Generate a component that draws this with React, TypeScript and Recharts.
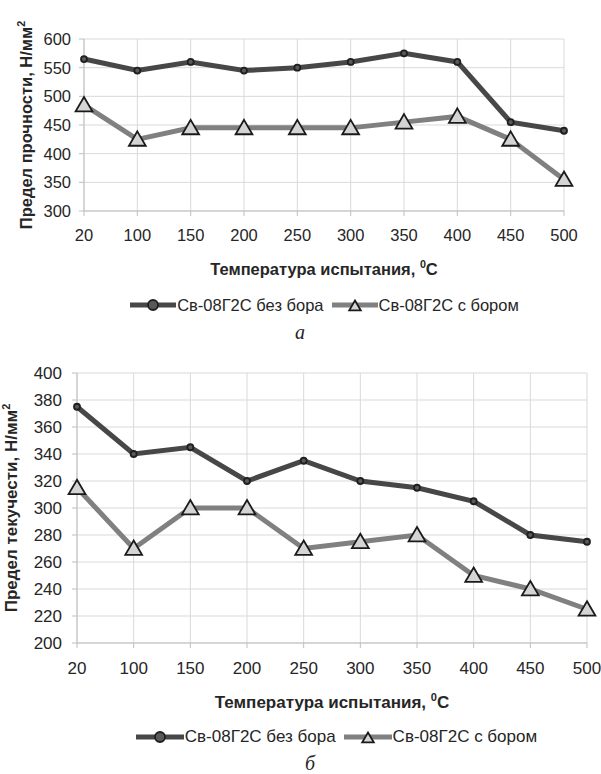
import React from 'react';
import {CartesianGrid, Legend, Line, LineChart, XAxis, YAxis} from 'recharts';

const temps = ['20', '100', '150', '200', '250', '300', '350', '400', '450', '500'];
const strengthNoBoron = [565, 545, 560, 545, 550, 560, 575, 560, 455, 440];
const strengthBoron = [485, 425, 445, 445, 445, 445, 455, 465, 425, 355];
const yieldNoBoron = [375, 340, 345, 320, 335, 320, 315, 305, 280, 275];
const yieldBoron = [315, 270, 300, 300, 270, 275, 280, 250, 240, 225];
const ticksA = [300, 350, 400, 450, 500, 550, 600];
const ticksB = [200, 220, 240, 260, 280, 300, 320, 340, 360, 380, 400];
const seriesNames = ['Св-08Г2С без бора', 'Св-08Г2С с бором'];

const dataA = temps.map((t, i) => ({t, a: strengthNoBoron[i], b: strengthBoron[i]}));
const dataB = temps.map((t, i) => ({t, a: yieldNoBoron[i], b: yieldBoron[i]}));

const FONT = '"Liberation Sans", Arial, sans-serif';
const TEXT = '#262626';
const DARK = '#474747';
const LIGHT = '#808080';

const Circle = (props: any) => {
    const {cx, cy, r = 7} = props;
    if (cx == null || cy == null) return null;
    return <circle key={props.index} cx={cx} cy={cy} r={r} fill="#595959" stroke="#1f1f1f" strokeWidth={1.8}/>;
};

const Triangle = (props: any) => {
    const {cx, cy, s = 8} = props;
    if (cx == null || cy == null) return null;
    const d = `M${cx},${cy - s} L${cx + s * 1.05},${cy + s * 0.8} L${cx - s * 1.05},${cy + s * 0.8} Z`;
    return <path key={props.index} d={d} fill="#d4d4d4" stroke="#1a1a1a" strokeWidth={1.8}/>;
};

const LegendBox = ({pad, fs, iw}: {pad: number, fs: number, iw: number}) => (
    <div style={{width: 601, display: 'flex', justifyContent: 'center', alignItems: 'center', paddingLeft: pad, boxSizing: 'border-box', fontFamily: FONT, fontSize: fs, color: TEXT, whiteSpace: 'nowrap'}}>
        {seriesNames.map((name, i) => (
            <div key={name} style={{display: 'flex', alignItems: 'center', marginRight: i === 0 ? 8 : 0}}>
                <svg width={iw} height={20}>
                    <line x1={0} x2={iw} y1={10} y2={10} stroke={i === 0 ? DARK : LIGHT} strokeWidth={5}/>
                    {i === 0 ? <Circle cx={iw / 2} cy={10} r={5}/> : <Triangle cx={iw / 2} cy={11} s={5.5}/>}
                </svg>
                <span style={{marginLeft: 1}}>{name}</span>
            </div>
        ))}
    </div>
);

const XTitle = (props: any) => {
    const {viewBox, dy, fs} = props;
    const cx = viewBox.x + viewBox.width / 2;
    return <text x={cx} y={viewBox.y + dy} textAnchor="middle" fontFamily={FONT} fontSize={fs} fontWeight="bold" fill={TEXT}>
        Температура испытания, <tspan fontSize={fs * 0.65} dy={-7}>0</tspan><tspan dy={7}>C</tspan>
    </text>;
};

const YTitle = (props: any) => {
    const {viewBox, text, lx, fs} = props;
    const cy = viewBox.y + viewBox.height / 2;
    return <text x={lx} y={cy} transform={`rotate(-90 ${lx} ${cy})`} textAnchor="middle" fontFamily={FONT} fontSize={fs} fontWeight="bold" fill={TEXT}>
        {text}<tspan fontSize={fs * 0.65} dy={-7}>2</tspan>
    </text>;
};

const Panel: React.FC<{data: any[], height: number, margin: any, domain: number[], ticks: number[], yWidth: number, yTitle: string, yTitleX: number, xTitleDy: number, legendPad: number, xTickMargin: number, yTickMargin: number, fs: number, iw: number}> = (p) => {
    const tickStyle = {fontFamily: FONT, fontSize: p.fs, fill: TEXT};
    return <LineChart width={601} height={p.height} data={p.data} margin={p.margin}>
        <CartesianGrid stroke="#d9d9d9"/>
        <XAxis dataKey="t" height={84} stroke="#bfbfbf" tickSize={5} tickMargin={p.xTickMargin} tick={tickStyle}
               interval={0} label={<XTitle dy={p.xTitleDy} fs={p.fs}/>}/>
        <YAxis domain={p.domain} ticks={p.ticks} width={p.yWidth} stroke="#bfbfbf" tickSize={5} tickMargin={p.yTickMargin}
               tick={tickStyle} interval={0} label={<YTitle text={p.yTitle} lx={p.yTitleX} fs={p.fs}/>}/>
        <Legend verticalAlign="bottom" height={20} wrapperStyle={{left: 0, width: 601}}
                content={() => <LegendBox pad={p.legendPad} fs={p.fs} iw={p.iw}/>}/>
        <Line dataKey="a" stroke={DARK} strokeWidth={5} dot={<Circle/>} isAnimationActive={false}/>
        <Line dataKey="b" stroke={LIGHT} strokeWidth={5} dot={<Triangle/>} isAnimationActive={false}/>
    </LineChart>;
};

export default function App() {
    const caption = {position: 'absolute' as const, fontFamily: '"Liberation Serif", "DejaVu Serif", serif', fontStyle: 'italic', fontSize: 20, lineHeight: '20px', color: TEXT};
    return <div style={{position: 'absolute', left: 0, top: 0, width: 601, height: 774, background: '#fff', overflow: 'hidden'}}>
        <div style={{position: 'absolute', left: 0, top: 0}}>
            <Panel data={dataA} height={320} margin={{top: 39, right: 37, left: 0, bottom: 5}} domain={[300, 600]} ticks={ticksA}
                   yWidth={84} yTitle="Предел прочности, Н/мм" yTitleX={32} xTitleDy={64} legendPad={48} xTickMargin={13}
                   yTickMargin={8} fs={16.5} iw={46}/>
        </div>
        <div style={{...caption, left: 295, top: 322}}>а</div>
        <div style={{position: 'absolute', left: 0, top: 350}}>
            <Panel data={dataB} height={424} margin={{top: 23, right: 14, left: 0, bottom: 27}} domain={[200, 400]} ticks={ticksB}
                   yWidth={77} yTitle="Предел текучести, Н/мм" yTitleX={17} xTitleDy={65} legendPad={72} xTickMargin={14}
                   yTickMargin={10} fs={17} iw={48}/>
        </div>
        <div style={{...caption, left: 305, top: 753}}>б</div>
    </div>;
}
